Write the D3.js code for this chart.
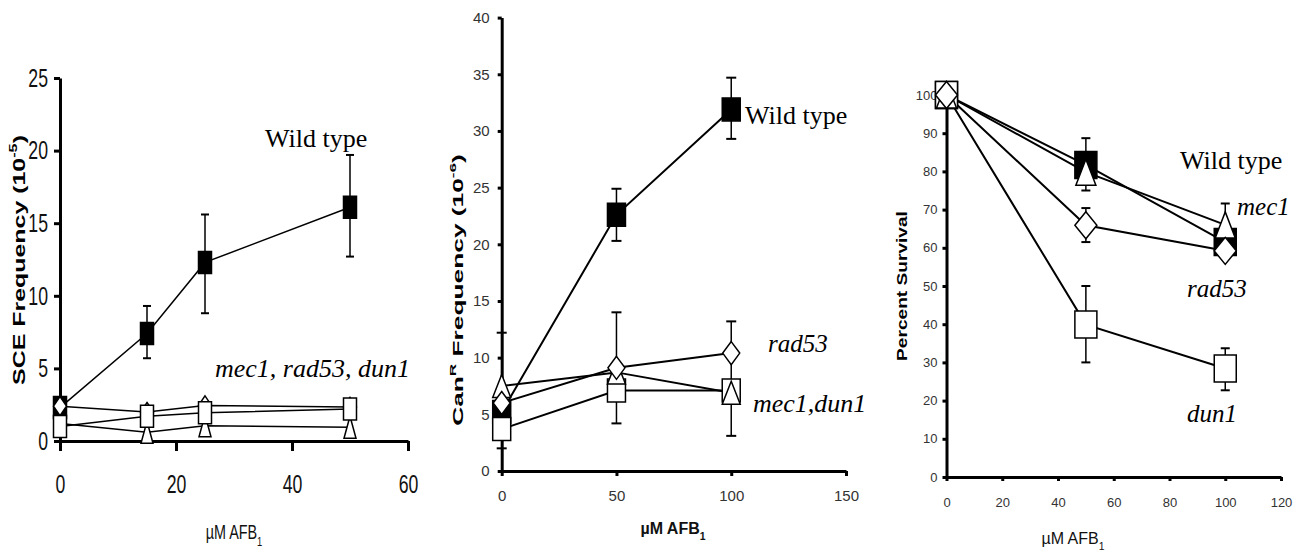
<!DOCTYPE html>
<html>
<head>
<meta charset="utf-8">
<script src="https://cdn.jsdelivr.net/npm/d3@7"></script>
<style>
body { margin: 0; background: #fff; }
svg { display: block; }
</style>
</head>
<body>
<svg id="chart" width="1308" height="551"></svg>
<script>
// ---- data: panel A (SCE frequency) ----
const sceDose = [0, 15, 25, 50];
const sceWild = [2.3, 7.4, 12.3, 16.1];
const sceWildHi = [null, 9.3, 15.6, 19.7];
const sceWildLo = [null, 5.7, 8.8, 12.7];
const sceRad53 = [2.4, 2.0, 2.45, 2.35];
const sceDun1 = [1.0, 1.7, 1.95, 2.2];
const sceMec1 = [1.2, 0.6, 1.05, 0.95];

// ---- data: panel B (CanR frequency) ----
const canDose = [0, 50, 100];
const canWild = [5.2, 22.6, 31.9];
const canWildHi = [null, 24.9, 34.7];
const canWildLo = [null, 20.3, 29.3];
const canRad53 = [6.0, 9.1, 10.4];
const canRad53Hi = [null, 14.0, 13.2];
const canRad53Lo = [null, 4.2, 3.1];
const canMec1 = [7.5, 8.7, 6.9];
const canMec1Hi = [12.2, null, null];
const canMec1Lo = [2.0, null, null];
const canDun1 = [3.7, 7.1, 7.1];

// ---- data: panel C (percent survival) ----
const survDose = [0, 50, 100];
const survWild = [100, 81.7, 61.5];
const survWildHi = [null, 88.7, null];
const survWildLo = [null, 75.0, null];
const survMec1 = [100, 79.8, 66.0];
const survMec1Hi = [null, null, 71.6];
const survRad53 = [100, 65.9, 59.2];
const survRad53Hi = [null, 70.4, null];
const survRad53Lo = [null, 61.5, null];
const survDun1 = [100, 39.9, 28.4];
const survDun1Hi = [null, 50.0, 33.7];
const survDun1Lo = [null, 30.0, 22.7];

// tick labels
const sceXTicks = [0, 20, 40, 60];
const sceYTicks = [0, 5, 10, 15, 20, 25];
const canXTicks = [0, 50, 100, 150];
const canYTicks = [0, 5, 10, 15, 20, 25, 30, 35, 40];
const survXTicks = [0, 20, 40, 60, 80, 100, 120];
const survYTicks = [0, 10, 20, 30, 40, 50, 60, 70, 80, 90, 100];

const svg = d3.select("#chart");

function markerPath(shape, w, h) {
    if (shape === "square") return `M${-w/2},${-h/2}h${w}v${h}h${-w}Z`;
    if (shape === "diamond") return `M0,${-h/2}L${w/2},0L0,${h/2}L${-w/2},0Z`;
    return `M0,${-h/2}L${w/2},${h/2}L${-w/2},${h/2}Z`;
}

// squeeze a text horizontally (the first panel uses a condensed face)
function squash(sel, k) {
    if (!k || k === 1) return;
    sel.each(function () {
        const w = this.getComputedTextLength();
        d3.select(this).attr("textLength", w * k).attr("lengthAdjust", "spacingAndGlyphs");
    });
}

class Panel {
    constructor(svg, opt) {
        this.svg = svg;
        this.opt = opt;
        this.g = svg.append("g");
        this.x = d3.scaleLinear().domain(opt.xDomain).range(opt.xRange);
        this.y = d3.scaleLinear().domain(opt.yDomain).range(opt.yRange);
    }

    draw() {
        this._drawAxes();
        this._drawSeries();
        this._drawLabels();
    }

    _drawAxes() {
        const o = this.opt;
        // x axis
        const xa = this.g.append("g")
            .attr("transform", `translate(0,${o.yRange[0]})`)
            .call(d3.axisBottom(this.x).tickValues(o.xTicks).tickSizeInner(o.xTickSize)
                .tickSizeOuter(0).tickPadding(o.xTickPad).tickFormat(d3.format("d")));
        // y axis
        const ya = this.g.append("g")
            .attr("transform", `translate(${o.xRange[0]},0)`)
            .call(d3.axisLeft(this.y).tickValues(o.yTicks).tickSizeInner(o.yTickSize)
                .tickSizeOuter(0).tickPadding(o.yTickPad).tickFormat(d3.format("d")));
        [xa, ya].forEach(a => {
            a.select(".domain").attr("stroke", "#000").attr("stroke-width", 3);
            a.selectAll(".tick line").attr("stroke", "#000").attr("stroke-width", o.tickWidth);
            const t = a.selectAll(".tick text")
                .attr("fill", o.tickColor)
                .style("font-family", o.tickFont)
                .style("font-size", o.tickSize + "px");
            squash(t, o.tickSquash);
        });
    }

    _drawSeries() {
        const o = this.opt;
        const line = d3.line().x(d => this.x(d[0])).y(d => this.y(d[1]));
        const lines = this.g.append("g");
        const errs = this.g.append("g");
        const marks = this.g.append("g");

        o.series.forEach(s => {
            const pts = o.dose.map((d, i) => [d, s.values[i]]);
            lines.append("path")
                .attr("d", line(pts))
                .attr("fill", "none")
                .attr("stroke", "#000")
                .attr("stroke-width", o.lineWidth);

            // error bars
            o.dose.forEach((d, i) => {
                const hi = s.hi ? s.hi[i] : null;
                const lo = s.lo ? s.lo[i] : null;
                if (hi == null && lo == null) return;
                const top = hi == null ? s.values[i] : hi;
                const bot = lo == null ? s.values[i] : lo;
                const cx = this.x(d);
                errs.append("line")
                    .attr("x1", cx).attr("x2", cx)
                    .attr("y1", this.y(top)).attr("y2", this.y(bot))
                    .attr("stroke", "#000").attr("stroke-width", 1.5);
                [hi, lo].filter(v => v != null).forEach(v => {
                    errs.append("line")
                        .attr("x1", cx - o.capW / 2).attr("x2", cx + o.capW / 2)
                        .attr("y1", this.y(v)).attr("y2", this.y(v))
                        .attr("stroke", "#000").attr("stroke-width", 2);
                });
            });
        });

        // markers in the drawing order of the panel
        o.series.slice().sort((a, b) => a.z - b.z).forEach(s => {
            const sz = o.marker[s.shape];
            marks.selectAll(null)
                .data(o.dose.map((d, i) => [d, s.values[i]]))
                .join("path")
                .attr("transform", d => `translate(${this.x(d[0])},${this.y(d[1])})`)
                .attr("d", markerPath(s.shape, sz[0], sz[1]))
                .attr("fill", s.fill)
                .attr("stroke", "#000")
                .attr("stroke-width", 1.5);
        });
    }

    _drawLabels() {
        const o = this.opt;
        // y title, rotated and stretched along its length
        const yg = this.g.append("g")
            .attr("transform", `translate(${o.yTitle.x},${o.yTitle.y}) rotate(-90)`);
        const yt = yg.append("text")
            .attr("text-anchor", "middle")
            .attr("dominant-baseline", "central")
            .style("font-family", "Arial, 'Liberation Sans', sans-serif")
            .style("font-weight", "bold")
            .style("font-size", o.yTitle.size + "px");
        o.yTitle.parts.forEach(p => {
            const ts = yt.append("tspan").text(p[0]);
            if (p[1]) ts.attr("baseline-shift", "super").style("font-size", "65%");
        });
        const w = yt.node().getBBox().width;
        yt.attr("transform", `scale(${o.yTitle.len / w},1)`);

        // x title (squeezed with a scale so the subscript moves with it)
        const k = o.xTitle.squash || 1;
        const xt = this.g.append("text")
            .attr("transform", `translate(${o.xTitle.x},${o.xTitle.y}) scale(${k},1)`)
            .attr("text-anchor", "middle")
            .style("font-family", o.xTitle.font)
            .style("font-weight", o.xTitle.weight)
            .style("font-size", o.xTitle.size + "px")
            .attr("fill", "#111");
        xt.append("tspan").text("\u00b5M AFB");
        xt.append("tspan").text("1").attr("baseline-shift", "sub").style("font-size", "65%");

        // series names
        o.names.forEach(n => {
            this.g.append("text")
                .attr("x", n.x).attr("y", n.y)
                .style("font-family", "'Liberation Serif', 'Times New Roman', serif")
                .style("font-style", n.italic ? "italic" : "normal")
                .style("font-size", n.size + "px")
                .text(n.text);
        });
    }
}

// panel A
new Panel(svg, {
    dose: sceDose,
    xDomain: [0, 60], xRange: [60, 408],
    yDomain: [0, 25], yRange: [441, 78],
    xTicks: sceXTicks, yTicks: sceYTicks,
    xTickSize: 10, xTickPad: 24, yTickSize: 6, yTickPad: 6, tickWidth: 3,
    tickFont: "Arial, 'Liberation Sans', sans-serif", tickSize: 26, tickColor: "#111", tickSquash: 0.68,
    lineWidth: 1.5, capW: 8,
    marker: {square: [13, 22], diamond: [13, 19], triangle: [12, 22]},
    series: [
        {values: sceWild, hi: sceWildHi, lo: sceWildLo, shape: "square", fill: "#000", z: 0},
        {values: sceMec1, shape: "triangle", fill: "#fff", z: 1},
        {values: sceRad53, shape: "diamond", fill: "#fff", z: 2},
        {values: sceDun1, shape: "square", fill: "#fff", z: 3}
    ],
    yTitle: {x: 19, y: 260, size: 16, len: 250,
        parts: [["SCE Frequency (10"], ["-5", true], [")"]]},
    xTitle: {x: 234, y: 539, size: 20, weight: "normal", squash: 0.72,
        font: "Arial, 'Liberation Sans', sans-serif"},
    names: [
        {text: "Wild type", x: 265, y: 147, size: 26},
        {text: "mec1, rad53, dun1", x: 215, y: 377, size: 26, italic: true}
    ]
}).draw();

// panel B
new Panel(svg, {
    dose: canDose,
    xDomain: [0, 150], xRange: [501.7, 846],
    yDomain: [0, 40], yRange: [471, 17.6],
    xTicks: canXTicks, yTicks: canYTicks,
    xTickSize: 5, xTickPad: 14, yTickSize: 4, yTickPad: 8, tickWidth: 3,
    tickFont: "Arial, 'Liberation Sans', sans-serif", tickSize: 15, tickColor: "#333",
    lineWidth: 2, capW: 10,
    marker: {square: [18, 23], diamond: [17, 23], triangle: [18, 23]},
    series: [
        {values: canWild, hi: canWildHi, lo: canWildLo, shape: "square", fill: "#000", z: 0},
        {values: canDun1, shape: "square", fill: "#fff", z: 1},
        {values: canMec1, hi: canMec1Hi, lo: canMec1Lo, shape: "triangle", fill: "#fff", z: 2},
        {values: canRad53, hi: canRad53Hi, lo: canRad53Lo, shape: "diamond", fill: "#fff", z: 3}
    ],
    yTitle: {x: 458, y: 290, size: 15, len: 272,
        parts: [["Can"], ["R", true], [" Frequency (10"], ["-6", true], [")"]]},
    xTitle: {x: 673, y: 534, size: 16, weight: "bold", font: "Arial, 'Liberation Sans', sans-serif"},
    names: [
        {text: "Wild type", x: 745, y: 124, size: 26},
        {text: "rad53", x: 768, y: 352, size: 25, italic: true},
        {text: "mec1,dun1", x: 753, y: 412, size: 26, italic: true}
    ]
}).draw();

// panel C
new Panel(svg, {
    dose: survDose,
    xDomain: [0, 120], xRange: [946.5, 1281],
    yDomain: [0, 100], yRange: [477, 95],
    xTicks: survXTicks, yTicks: survYTicks,
    xTickSize: 4, xTickPad: 17, yTickSize: 4, yTickPad: 5, tickWidth: 3,
    tickFont: "Arial, 'Liberation Sans', sans-serif", tickSize: 13, tickColor: "#333",
    lineWidth: 2, capW: 9,
    marker: {square: [22, 27], diamond: [22, 27], triangle: [20, 26]},
    series: [
        {values: survWild, hi: survWildHi, lo: survWildLo, shape: "square", fill: "#000", z: 0},
        {values: survDun1, hi: survDun1Hi, lo: survDun1Lo, shape: "square", fill: "#fff", z: 1},
        {values: survMec1, hi: survMec1Hi, shape: "triangle", fill: "#fff", z: 2},
        {values: survRad53, hi: survRad53Hi, lo: survRad53Lo, shape: "diamond", fill: "#fff", z: 3}
    ],
    yTitle: {x: 902, y: 286, size: 14, len: 150, parts: [["Percent Survival"]]},
    xTitle: {x: 1073, y: 544, size: 16, weight: "normal", font: "Arial, 'Liberation Sans', sans-serif"},
    names: [
        {text: "Wild type", x: 1180, y: 169, size: 26},
        {text: "mec1", x: 1237, y: 215, size: 25, italic: true},
        {text: "rad53", x: 1187, y: 297, size: 25, italic: true},
        {text: "dun1", x: 1187, y: 422, size: 25, italic: true}
    ]
}).draw();
</script>
</body>
</html>
